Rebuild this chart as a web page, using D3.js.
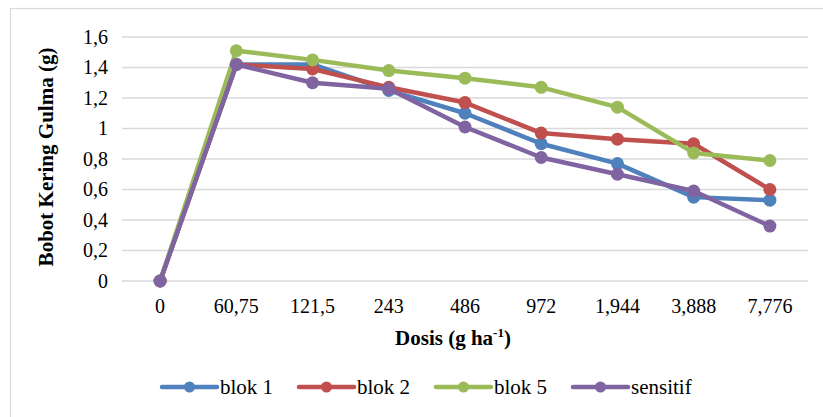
<!DOCTYPE html>
<html>
<head>
<meta charset="utf-8">
<script src="https://cdn.jsdelivr.net/npm/d3@7"></script>
<style>
  body { margin: 0; background: #fff; }
  svg text { font-family: "Liberation Serif", "Times New Roman", serif; }
</style>
</head>
<body>
<div id="chart"></div>
<script>
// categories on the x axis (dose)
var doses = ["0", "60,75", "121,5", "243", "486", "972", "1,944", "3,888", "7,776"];
var yTicks = [0, 0.2, 0.4, 0.6, 0.8, 1, 1.2, 1.4, 1.6];

var blok1 =    [0, 1.42, 1.42, 1.25, 1.10, 0.90, 0.77, 0.55, 0.53];
var blok2 =    [0, 1.42, 1.39, 1.27, 1.17, 0.97, 0.93, 0.90, 0.60];
var blok5 =    [0, 1.51, 1.45, 1.38, 1.33, 1.27, 1.14, 0.84, 0.79];
var sensitif = [0, 1.42, 1.30, 1.26, 1.01, 0.81, 0.70, 0.59, 0.36];

var seriesNames = ["blok 1", "blok 2", "blok 5", "sensitif"];
var seriesColors = ["#4f81bd", "#c0504d", "#9bbb59", "#8064a2"];

var width = 823, height = 417;

var series = [blok1, blok2, blok5, sensitif].map(function(v, i){
    return {name: seriesNames[i], color: seriesColors[i],
            values: v.map(function(d, j){ return {dose: doses[j], value: d}; })};
});

var svg = d3.select("#chart").append("svg")
    .attr("width", width)
    .attr("height", height);

// outer chart frame
svg.append("rect")
    .attr("x", 10.5).attr("y", 8.5)
    .attr("width", 820).attr("height", 420)
    .attr("fill", "none")
    .attr("stroke", "#d9d9d9")
    .attr("stroke-width", 1.2);

var x = d3.scaleBand().domain(doses).range([122, 808]),
    y = d3.scaleLinear().domain([0, 1.6]).range([281, 37]);

// gridlines
svg.append("g").attr("class", "grid")
    .selectAll("line")
    .data(yTicks)
    .enter().append("line")
    .attr("x1", 122).attr("x2", 808)
    .attr("y1", function(d){ return y(d); })
    .attr("y2", function(d){ return y(d); })
    .attr("stroke", "#d9d9d9")
    .attr("stroke-width", 1.3);

var yAxis = d3.axisLeft(y)
    .tickValues(yTicks)
    .tickSize(0)
    .tickPadding(14)
    .tickFormat(function(d){ return d3.format(".1f")(d).replace(".", ",").replace(/^1,0$/, "1").replace(/^0,0$/, "0"); });

svg.append("g")
    .attr("class", "axis axis--y")
    .attr("transform", "translate(122,0)")
    .call(yAxis)
    .attr("font-family", null)
    .attr("font-size", null)
    .call(function(g){ g.select(".domain").remove(); })
    .selectAll("text")
    .style("font-size", "20px")
    .attr("fill", "#000");

var xAxis = d3.axisBottom(x)
    .tickSize(0)
    .tickPadding(18);

svg.append("g")
    .attr("class", "axis axis--x")
    .attr("transform", "translate(0,281)")
    .call(xAxis)
    .attr("font-family", null)
    .attr("font-size", null)
    .call(function(g){ g.select(".domain").remove(); })
    .selectAll("text")
    .style("font-size", "20px")
    .attr("fill", "#000");

// axis titles
var xt = svg.append("text")
    .attr("x", 453).attr("y", 345)
    .attr("text-anchor", "middle")
    .style("font-size", "21px")
    .style("font-weight", "bold")
    .text("Dosis (g ha");
xt.append("tspan").attr("dy", -8).style("font-size", "13px").text("-1");
xt.append("tspan").attr("dy", 8).text(")");

svg.append("text")
    .attr("transform", "translate(53,157) rotate(-90)")
    .attr("text-anchor", "middle")
    .style("font-size", "21px")
    .style("font-weight", "bold")
    .text("Bobot Kering Gulma (g)");

var line = d3.line()
    .x(function(d){ return x(d.dose) + x.bandwidth() / 2; })
    .y(function(d){ return y(d.value); });

var s = svg.append("g").attr("class", "lines")
    .selectAll("g")
    .data(series)
    .enter().append("g");

s.append("path")
    .attr("d", function(d){ return line(d.values); })
    .attr("fill", "none")
    .attr("stroke", function(d){ return d.color; })
    .attr("stroke-width", 4.5)
    .attr("stroke-linejoin", "round");

s.selectAll("circle")
    .data(function(d){ return d.values.map(function(v){ return {v: v, color: d.color}; }); })
    .enter().append("circle")
    .attr("cx", function(d){ return x(d.v.dose) + x.bandwidth() / 2; })
    .attr("cy", function(d){ return y(d.v.value); })
    .attr("r", 6.5)
    .attr("fill", function(d){ return d.color; });

// legend
var legendX = [162, 299, 436, 573];
var legend = svg.append("g").attr("class", "legend")
    .selectAll("g")
    .data(series)
    .enter().append("g")
    .attr("transform", function(d, i){ return "translate(" + legendX[i] + ",387)"; });

legend.append("line")
    .attr("x1", 0).attr("x2", 55)
    .attr("stroke", function(d){ return d.color; })
    .attr("stroke-width", 4.5)
    .attr("stroke-linecap", "round");
legend.append("circle")
    .attr("cx", 27.5).attr("r", 5.5)
    .attr("fill", function(d){ return d.color; });
legend.append("text")
    .attr("x", 58).attr("y", 7)
    .style("font-size", "21px")
    .text(function(d){ return d.name; });
</script>
</body>
</html>
